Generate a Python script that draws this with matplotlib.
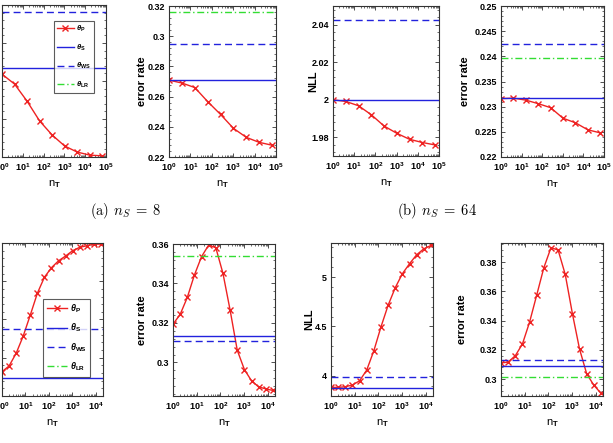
import numpy as np
import matplotlib
matplotlib.use('Agg')
import matplotlib.pyplot as plt
from matplotlib.ticker import AutoMinorLocator, LogLocator, NullFormatter, FixedLocator

plt.rcParams['font.family'] = 'Liberation Sans'
plt.rcParams['font.weight'] = 'bold'
plt.rcParams['mathtext.fontset'] = 'custom'
plt.rcParams['mathtext.rm'] = 'Liberation Sans:bold'
plt.rcParams['mathtext.bf'] = 'Liberation Sans:bold'
plt.rcParams['mathtext.it'] = 'Liberation Sans:bold:italic'
plt.rcParams['mathtext.default'] = 'it'

# n_T grids
nT_top = [1, 4, 16, 64, 256, 1024, 4096, 16384, 65536]
nT_bot = [1, 2, 4, 8, 16, 32, 64, 128, 256, 512, 1024, 2048, 4096, 8192, 16384]

# (a) n_S = 8, NLL (y labels cropped in the source)
a_nll_P = [2.418, 2.392, 2.347, 2.295, 2.258, 2.229, 2.213, 2.205, 2.203]
a_nll_S = 2.434
a_nll_WS = 2.582
a_nll_LR = 2.70
# (a) n_S = 8, error rate
a_err_P = [0.2709, 0.2690, 0.2660, 0.2567, 0.2482, 0.2390, 0.2330, 0.2297, 0.2278]
a_err_S = 0.2709
a_err_WS = 0.2946
a_err_LR = 0.3160
# (b) n_S = 64, NLL
b_nll_P = [2.0000, 1.9991, 1.9968, 1.9920, 1.9860, 1.9821, 1.9789, 1.9772, 1.9759]
b_nll_S = 2.0000
b_nll_WS = 2.0423
b_nll_LR = 2.07
# (b) n_S = 64, error rate
b_err_P = [0.2316, 0.2317, 0.2313, 0.2306, 0.2298, 0.2277, 0.2268, 0.2254, 0.2248]
b_err_S = 0.2317
b_err_WS = 0.2425
b_err_LR = 0.2396

# bottom-left, NLL (y labels cropped in the source)
c_nll_P = [3.854, 3.914, 4.046, 4.227, 4.446, 4.674, 4.842, 4.942, 5.014,
           5.064, 5.120, 5.155, 5.171, 5.187, 5.189]
c_nll_S = 3.786
c_nll_WS = 4.298
c_nll_LR = 5.5
# bottom, error rate
c_err_P = [0.3194, 0.3243, 0.3329, 0.3443, 0.3536, 0.3595, 0.3581, 0.3451,
           0.3265, 0.3062, 0.2964, 0.2907, 0.2876, 0.2866, 0.2858]
c_err_S = 0.3133
c_err_WS = 0.3108
c_err_LR = 0.3539
# bottom, NLL
d_nll_P = [3.882, 3.882, 3.889, 3.906, 3.949, 4.057, 4.253, 4.495, 4.714,
           4.892, 5.034, 5.135, 5.226, 5.286, 5.320]
d_nll_S = 3.875
d_nll_WS = 3.990
d_nll_LR = 5.6
# bottom-right, error rate
d_err_P = [0.3110, 0.3117, 0.3160, 0.3240, 0.3389, 0.3574, 0.3761, 0.3898,
           0.3882, 0.3715, 0.3448, 0.3206, 0.3037, 0.2959, 0.2904]
d_err_S = 0.3091
d_err_WS = 0.3128
d_err_LR = 0.3014

W, H = 613, 443
fig = plt.figure(figsize=(W / 100, H / 100), dpi=100)

RED = '#ee2222'
BLUE = '#2222dd'
GREEN = '#33dd33'


def ax_at(l, r, t, b):
    return fig.add_axes([l / W, 1 - b / H, (r - l) / W, (b - t) / H])


def panel(box, x, yP, yS, yWS, yLR, xlim, ylim, yticks, ylabel, ylabx,
          hide_y=False, legend=None):
    ax = ax_at(*box)
    ax.plot(x, yP, '-x', color=RED, lw=1.0, ms=4, mew=1.0, label=r'$\theta_\mathrm{P}$')
    ax.axhline(yS, color=BLUE, lw=1.0, ls='-', label=r'$\theta_\mathrm{S}$')
    ax.axhline(yWS, color=BLUE, lw=1.0, ls=(0, (5, 3)), label=r'$\theta_\mathrm{WS}$')
    ax.axhline(yLR, color=GREEN, lw=1.0, ls=(0, (5, 2, 1, 2)), label=r'$\theta_\mathrm{LR}$')
    ax.set_xscale('log')
    ax.set_xlim(*xlim)
    ax.set_ylim(*ylim)
    ax.xaxis.set_major_locator(LogLocator(base=10, numticks=10))
    ax.xaxis.set_minor_locator(LogLocator(base=10, subs=np.arange(2, 10), numticks=20))
    ax.xaxis.set_minor_formatter(NullFormatter())
    ax.yaxis.set_major_locator(FixedLocator(yticks))
    ax.yaxis.set_minor_locator(AutoMinorLocator(5))
    ax.set_yticklabels([('%g' % v) for v in yticks])
    ax.tick_params(which='both', direction='in', top=True, right=True,
                   labelsize=6.5, pad=3, color='#333333')
    ax.tick_params(which='major', length=3, width=0.6)
    ax.tick_params(which='minor', length=1.5, width=0.5)
    if hide_y:
        ax.tick_params(axis='y', labelleft=False)
    for s in ax.spines.values():
        s.set_color('#333333')
        s.set_linewidth(0.8)
    ax.set_xlabel(r'n$_\mathrm{T}$', fontsize=8, labelpad=4)
    if ylabel:
        fig.text(ylabx / W, 1 - ((box[2] + box[3]) / 2) / H, ylabel, rotation=90,
                 ha='center', va='center', fontsize=8, fontweight='bold')
    if legend is not None:
        anchor, fs, ls = legend
        leg = ax.legend(loc='upper left', bbox_to_anchor=anchor, fontsize=fs,
                        frameon=True, fancybox=False, edgecolor='#333333',
                        handlelength=2.2, handletextpad=0.3, borderpad=0.4,
                        labelspacing=ls, borderaxespad=0)
        leg.get_frame().set_linewidth(0.8)
    return ax


top_xlim = (1, 1e5)
bot_xlim = (1, 2e4)

panel((2, 106, 5, 157), nT_top, a_nll_P, a_nll_S, a_nll_WS, a_nll_LR,
      top_xlim, (2.2, 2.6), [2.2, 2.3, 2.4, 2.5, 2.6], None, 0, hide_y=True,
      legend=((0.50, 0.895), 5.5, 1.1))
panel((169, 276, 6, 157), nT_top, a_err_P, a_err_S, a_err_WS, a_err_LR,
      top_xlim, (0.22, 0.32), [0.22, 0.24, 0.26, 0.28, 0.30, 0.32], 'error rate', 142)
panel((333, 439, 6, 156), nT_top, b_nll_P, b_nll_S, b_nll_WS, b_nll_LR,
      top_xlim, (1.97, 2.05), [1.98, 2.00, 2.02, 2.04], 'NLL', 313)
panel((501, 604, 6, 157), nT_top, b_err_P, b_err_S, b_err_WS, b_err_LR,
      top_xlim, (0.22, 0.25), [0.22, 0.225, 0.23, 0.235, 0.24, 0.245, 0.25],
      'error rate', 465)

panel((2, 103, 243, 396), nT_bot, c_nll_P, c_nll_S, c_nll_WS, c_nll_LR,
      bot_xlim, (3.6, 5.2), [3.6, 4.0, 4.4, 4.8, 5.2], None, 0, hide_y=True,
      legend=((0.41, 0.634), 6.5, 0.75))
panel((173, 275, 244, 396), nT_bot, c_err_P, c_err_S, c_err_WS, c_err_LR,
      bot_xlim, (0.283, 0.36), [0.30, 0.32, 0.34, 0.36], 'error rate', 142)
panel((331, 433, 243, 396), nT_bot, d_nll_P, d_nll_S, d_nll_WS, d_nll_LR,
      bot_xlim, (3.795, 5.345), [4.0, 4.5, 5.0], 'NLL', 309)
panel((501, 603, 243, 396), nT_bot, d_err_P, d_err_S, d_err_WS, d_err_LR,
      bot_xlim, (0.2885, 0.393), [0.30, 0.32, 0.34, 0.36, 0.38], 'error rate', 462)

fig.text(126 / W, 1 - 211 / H, r'(a) $n_S\;=\;8$', fontsize=10.5, family='cmr10',
         fontweight='normal', math_fontfamily='cm', ha='center', va='center')
fig.text(437 / W, 1 - 211 / H, r'(b) $n_S\;=\;64$', fontsize=10.5, family='cmr10',
         fontweight='normal', math_fontfamily='cm', ha='center', va='center')

fig.savefig('out.png', dpi=100)
